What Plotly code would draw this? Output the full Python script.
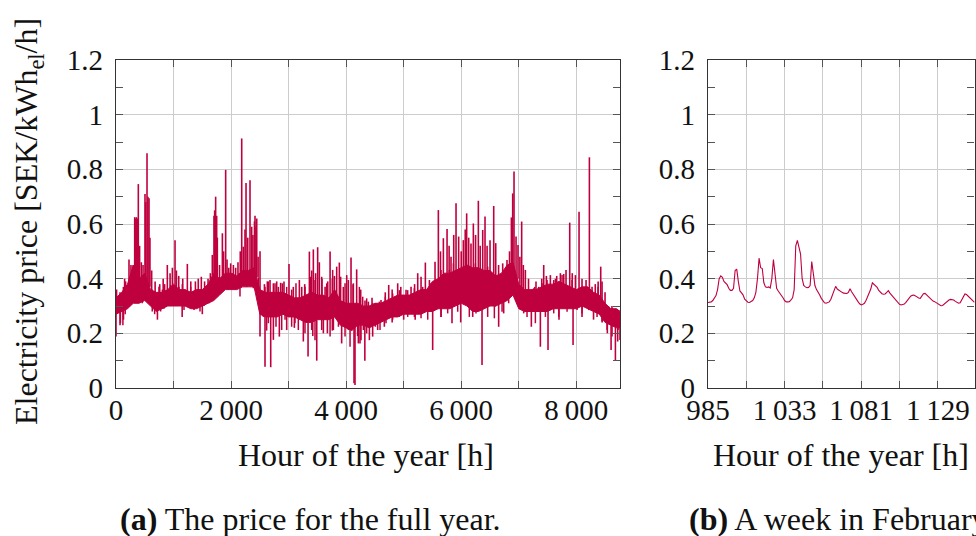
import plotly.graph_objects as go

# ---------------- data ----------------
# Full year: dense core band of the hourly price, sampled every 100 h
band_hours = list(range(0, 8800, 100)) + [8760]
band_lo = [0.27, 0.28, 0.29, 0.31, 0.31, 0.32, 0.30, 0.28, 0.29, 0.30,
           0.30, 0.30, 0.30, 0.29, 0.29, 0.30, 0.31, 0.32, 0.34, 0.36,
           0.36, 0.36, 0.37, 0.37, 0.37, 0.27, 0.26, 0.26, 0.26, 0.27,
           0.26, 0.26, 0.25, 0.24, 0.24, 0.25, 0.25, 0.25, 0.26, 0.23,
           0.22, 0.21, 0.23, 0.23, 0.22, 0.23, 0.24, 0.25, 0.26, 0.26,
           0.27, 0.27, 0.27, 0.27, 0.28, 0.28, 0.29, 0.29, 0.29, 0.30,
           0.31, 0.30, 0.28, 0.28, 0.29, 0.30, 0.30, 0.31, 0.32, 0.34,
           0.29, 0.28, 0.28, 0.28, 0.28, 0.28, 0.29, 0.29, 0.29, 0.29,
           0.29, 0.30, 0.29, 0.28, 0.27, 0.24, 0.23, 0.22,
           0.22]
band_hi = [0.33, 0.35, 0.38, 0.45, 0.40, 0.42, 0.36, 0.35, 0.35, 0.36,
           0.38, 0.36, 0.36, 0.35, 0.36, 0.36, 0.38, 0.42, 0.40, 0.42,
           0.42, 0.41, 0.43, 0.43, 0.44, 0.36, 0.35, 0.35, 0.35, 0.35,
           0.34, 0.33, 0.33, 0.34, 0.35, 0.34, 0.34, 0.33, 0.36, 0.32,
           0.31, 0.31, 0.31, 0.30, 0.30, 0.31, 0.31, 0.32, 0.33, 0.34,
           0.34, 0.34, 0.35, 0.36, 0.36, 0.39, 0.40, 0.42, 0.42, 0.43,
           0.44, 0.45, 0.44, 0.44, 0.43, 0.43, 0.41, 0.42, 0.45, 0.46,
           0.38, 0.36, 0.36, 0.36, 0.37, 0.38, 0.38, 0.39, 0.38, 0.37,
           0.36, 0.37, 0.37, 0.35, 0.34, 0.31, 0.29, 0.29,
           0.28]

# Individual price peaks (hour, price)
peak_hours = [10, 70, 150, 226, 260, 300, 325, 340, 355, 371, 388, 410, 440, 470, 504, 516, 539, 555, 574, 590,
              620, 680, 760, 820, 892, 940, 980, 1026, 1050, 1090, 1160, 1240, 1300, 1380, 1430, 1483, 1540, 1600,
              1640, 1674, 1703, 1715, 1732, 1750, 1761, 1800, 1849, 1870, 1906, 1930, 1960, 1993, 2040, 2080, 2120,
              2160, 2185, 2213, 2242, 2260, 2290, 2329, 2358, 2380, 2407, 2416, 2434, 2446, 2470, 2503,
              2580, 2630, 2677, 2735, 2793, 2862, 2920, 3007, 3082, 3187, 3228, 3280, 3361, 3401, 3430, 3470, 3505,
              3534, 3580, 3634, 3680, 3721, 3760, 3796, 3836, 3882, 3951, 4010, 4085, 4120, 4183, 4253, 4328, 4386,
              4450, 4519, 4606, 4680, 4740, 4800, 4896, 4950, 5041, 5128, 5190, 5244, 5302, 5377, 5447, 5545, 5603,
              5640, 5690, 5754, 5790, 5823, 5870, 5910, 5956, 6000, 6037, 6070, 6095, 6130, 6170, 6211, 6250, 6298,
              6330, 6374, 6414, 6450, 6501, 6565, 6600, 6650, 6721, 6760, 6796, 6840, 6872, 6895, 6918, 6953, 6987,
              7020, 7051, 7080, 7115, 7170, 7260, 7300, 7347, 7400, 7434, 7480, 7550, 7608, 7660, 7724, 7782, 7822,
              7886, 7930, 7985, 8048, 8100, 8170, 8228, 8274, 8330, 8380, 8425, 8448, 8500, 8564, 8620, 8680, 8738]
peak_price = [0.36, 0.35, 0.40, 0.47, 0.45, 0.45, 0.625, 0.62, 0.625, 0.62, 0.746, 0.52, 0.46, 0.45, 0.71, 0.68, 0.859, 0.70, 0.694, 0.55,
              0.43, 0.39, 0.38, 0.40, 0.45, 0.42, 0.44, 0.541, 0.43, 0.41, 0.40, 0.454, 0.39, 0.39, 0.40, 0.407, 0.39, 0.40,
              0.42, 0.487, 0.63, 0.65, 0.70, 0.63, 0.55, 0.45, 0.566, 0.50, 0.798, 0.47, 0.44, 0.456, 0.45, 0.44, 0.46,
              0.50, 0.913, 0.517, 0.58, 0.75, 0.55, 0.76, 0.59, 0.56, 0.61, 0.63, 0.59, 0.62, 0.48, 0.50,
              0.38, 0.39, 0.395, 0.383, 0.39, 0.385, 0.39, 0.454, 0.37, 0.395, 0.37, 0.38, 0.499, 0.43, 0.507, 0.42, 0.515,
              0.46, 0.40, 0.37, 0.39, 0.499, 0.40, 0.41, 0.444, 0.459, 0.37, 0.413, 0.477, 0.38, 0.434, 0.36, 0.32, 0.316,
              0.33, 0.31, 0.322, 0.35, 0.377, 0.36, 0.383, 0.37, 0.359, 0.37, 0.38, 0.42, 0.407, 0.459, 0.395, 0.462, 0.651,
              0.50, 0.548, 0.582, 0.52, 0.48, 0.56, 0.676, 0.554, 0.50, 0.541, 0.58, 0.639, 0.55, 0.529, 0.602, 0.56, 0.685,
              0.52, 0.578, 0.627, 0.52, 0.541, 0.666, 0.53, 0.45, 0.456, 0.43, 0.468, 0.50, 0.624, 0.712, 0.792, 0.554, 0.523,
              0.48, 0.609, 0.45, 0.432, 0.40, 0.365, 0.39, 0.37, 0.40, 0.45, 0.41, 0.413, 0.395, 0.41, 0.42, 0.417, 0.432,
              0.605, 0.42, 0.413, 0.645, 0.40, 0.395, 0.844, 0.37, 0.38, 0.39, 0.444, 0.39, 0.35, 0.298, 0.30, 0.29, 0.285]

# Smaller excursions at the top edge of the band (hour, price)
edge_top_hours = [81, 128, 168, 255, 458, 631, 689, 747, 805, 846, 950, 1095, 1153, 1298, 1385, 1558, 1617, 1790,
                  1964, 2022, 2080, 2138, 2590, 2648, 2764, 2822, 2891, 2967, 3053, 3128, 3285, 3384, 3459, 3575,
                  3662, 3766, 3905, 3981, 4039, 4126, 4230, 4288, 4357, 4461, 4577, 4681, 4809, 4925, 5070, 5186,
                  5331, 5476, 5649, 5794, 5864, 5997, 6141, 6246, 6333, 6460, 6536, 6651, 6767, 7173, 7277, 7405,
                  7492, 7637, 7753, 7927, 8101, 8274, 8379, 8506, 8593, 8691]
edge_top_price = [0.346, 0.37, 0.39, 0.41, 0.37, 0.36, 0.346, 0.37, 0.36, 0.38, 0.377, 0.37, 0.38, 0.37, 0.36, 0.37, 0.365, 0.395,
                  0.41, 0.42, 0.41, 0.42, 0.37, 0.39, 0.383, 0.37, 0.383, 0.37, 0.36, 0.383, 0.37, 0.407, 0.395, 0.407,
                  0.383, 0.432, 0.407, 0.383, 0.395, 0.383, 0.37, 0.334, 0.328, 0.31, 0.316, 0.334, 0.346, 0.358, 0.358, 0.365,
                  0.37, 0.383, 0.432, 0.432, 0.456, 0.432, 0.407, 0.456, 0.432, 0.444, 0.42, 0.407, 0.407, 0.358, 0.37, 0.383,
                  0.395, 0.40, 0.413, 0.395, 0.37, 0.358, 0.37, 0.298, 0.285, 0.279]

# Individual price dips (hour, price)
dip_hours = [0, 70, 130, 720, 1150, 1500, 2503, 2590, 2689, 2735, 2839, 2967, 3100, 3256, 3338, 3420, 3489, 3604,
             3674, 3760, 3922, 4039, 4137, 4154, 4200, 4241, 4258, 4325, 4404, 4461, 4548, 4664, 4800, 5000, 5200,
             5504, 5650, 5840, 5991, 6200, 6362, 6651, 6738, 7219, 7376, 7509, 7700, 7944, 8100, 8300, 8450, 8540,
             8605, 8680, 8720, 8760]
dip_price = [0.188, 0.23, 0.25, 0.25, 0.26, 0.27, 0.188, 0.078, 0.076, 0.176, 0.188, 0.212, 0.22, 0.17, 0.115, 0.19, 0.10, 0.20,
             0.20, 0.21, 0.163, 0.212, 0.017, 0.011, 0.19, 0.163, 0.175, 0.10, 0.175, 0.188, 0.212, 0.224, 0.24, 0.25, 0.25,
             0.139, 0.26, 0.237, 0.24, 0.26, 0.084, 0.224, 0.273, 0.224, 0.151, 0.139, 0.25, 0.157, 0.26, 0.25, 0.24, 0.20,
             0.139, 0.102, 0.17, 0.176]

# Smaller excursions at the bottom edge of the band (hour, price)
edge_bot_hours = [77, 120, 160, 197, 458, 630, 672, 776, 834, 921, 1066, 1124, 1182, 1269, 1356, 1460, 1530, 1617,
                  1820, 1935, 2138, 2155, 2271, 2387, 2474, 2561, 2619, 2648, 2706, 2781, 2880, 2938, 3053, 3111,
                  3169, 3285, 3401, 3459, 3575, 3721, 3779, 3866, 3981, 4068, 4212, 4299, 4357, 4508, 4589, 4693,
                  4809, 4925, 5070, 5186, 5302, 5418, 5649, 5765, 5939, 6141, 6257, 6460, 6576, 6594, 6710, 6825,
                  6970, 7086, 7144, 7289, 7463, 7608, 7695, 7840, 8014, 8101, 8216, 8361, 8448, 8535, 8622, 8726]
edge_bot_price = [0.237, 0.23, 0.27, 0.31, 0.31, 0.28, 0.27, 0.28, 0.29, 0.30, 0.31, 0.30, 0.285, 0.30, 0.285, 0.28, 0.30, 0.31,
                  0.35, 0.36, 0.37, 0.335, 0.37, 0.365, 0.37, 0.26, 0.21, 0.237, 0.26, 0.224, 0.212, 0.25, 0.224, 0.237,
                  0.212, 0.20, 0.212, 0.175, 0.212, 0.188, 0.212, 0.224, 0.188, 0.151, 0.163, 0.212, 0.20, 0.224, 0.212, 0.237,
                  0.25, 0.26, 0.26, 0.26, 0.255, 0.25, 0.26, 0.273, 0.279, 0.26, 0.273, 0.26, 0.255, 0.298, 0.279, 0.31,
                  0.334, 0.273, 0.26, 0.237, 0.26, 0.273, 0.26, 0.279, 0.285, 0.273, 0.285, 0.26, 0.243, 0.212, 0.188, 0.212]

# A week in February (hours 985 - 1152)
week_hours = list(range(985, 1153))
week_price = [0.313, 0.313, 0.315, 0.32, 0.327, 0.338, 0.36, 0.40, 0.41, 0.405,
              0.39, 0.383, 0.378, 0.365, 0.357, 0.357, 0.365, 0.43, 0.435, 0.39,
              0.355, 0.348, 0.34, 0.325, 0.318, 0.314, 0.313, 0.316, 0.32, 0.33,
              0.35, 0.40, 0.475, 0.44, 0.437, 0.385, 0.37, 0.368, 0.37, 0.366,
              0.40, 0.47, 0.415, 0.365, 0.355, 0.348, 0.337, 0.33, 0.32, 0.315,
              0.315, 0.316, 0.322, 0.33, 0.36, 0.52, 0.54, 0.515, 0.49, 0.40,
              0.375, 0.37, 0.367, 0.368, 0.375, 0.463, 0.42, 0.375, 0.36, 0.352,
              0.34, 0.328, 0.318, 0.312, 0.31, 0.312, 0.315, 0.325, 0.34, 0.36,
              0.372, 0.362,
              0.357, 0.353, 0.35, 0.347, 0.346, 0.346, 0.35, 0.363, 0.352, 0.342,
              0.333, 0.324, 0.316, 0.308, 0.304, 0.306, 0.31, 0.32, 0.333, 0.348,
              0.362, 0.385, 0.38, 0.375, 0.368, 0.357, 0.35, 0.345, 0.343, 0.344,
              0.35, 0.356, 0.347, 0.34, 0.333, 0.326, 0.318, 0.312, 0.306, 0.304,
              0.305, 0.307, 0.313, 0.322, 0.33, 0.336, 0.339, 0.34, 0.337, 0.332,
              0.329, 0.328, 0.335, 0.345, 0.346, 0.34, 0.333, 0.327, 0.322, 0.318,
              0.316, 0.313, 0.309, 0.304, 0.301, 0.302, 0.307, 0.313, 0.318, 0.322,
              0.324, 0.323, 0.322, 0.317, 0.312, 0.31, 0.312, 0.322, 0.336, 0.344,
              0.342, 0.336, 0.328, 0.322, 0.316, 0.313]

year_ticks = [0, 2000, 4000, 6000, 8000]
year_ticktext = ["0", "2\u2009000", "4\u2009000", "6\u2009000", "8\u2009000"]
week_ticks = [985, 1033, 1081, 1129]
week_ticktext = ["985", "1\u2009033", "1\u2009081", "1\u2009129"]
y_ticks = [0, 0.2, 0.4, 0.6, 0.8, 1.0, 1.2]
y_ticktext = ["0", "0.2", "0.4", "0.6", "0.8", "1", "1.2"]

# ---------------- figure ----------------
COL = "#bf003f"
FONT = "Liberation Serif"
FS = 29      # tick labels
FS_T = 32    # titles and captions
W, H = 976, 536

fig = go.Figure()

# dense band of the full-year series
fig.add_trace(go.Scatter(
    x=band_hours + band_hours[::-1],
    y=band_hi + band_lo[::-1],
    fill="toself", fillcolor=COL, mode="lines",
    line=dict(color=COL, width=1), hoverinfo="skip", showlegend=False,
    xaxis="x", yaxis="y"))


def base_of(h):
    i = min(int(h // 100), len(band_lo) - 1)
    return (band_lo[i] + band_hi[i]) / 2


def segments(hours, prices):
    xs, ys = [], []
    for h, v in zip(hours, prices):
        xs += [h, h, None]
        ys += [base_of(h), v, None]
    return xs, ys


ex, ey = segments(edge_top_hours + edge_bot_hours, edge_top_price + edge_bot_price)
fig.add_trace(go.Scatter(x=ex, y=ey, mode="lines", line=dict(color=COL, width=1.5),
                         hoverinfo="skip", showlegend=False, xaxis="x", yaxis="y"))
sx, sy = segments(peak_hours + dip_hours, peak_price + dip_price)
fig.add_trace(go.Scatter(x=sx, y=sy, mode="lines", line=dict(color=COL, width=1.6),
                         hoverinfo="skip", showlegend=False, xaxis="x", yaxis="y"))

fig.add_trace(go.Scatter(x=week_hours, y=week_price, mode="lines",
                         line=dict(color=COL, width=1.1), showlegend=False,
                         xaxis="x2", yaxis="y2"))

ydom = [(H - 388) / H, (H - 60) / H]
axis_common = dict(
    automargin=False,
    showline=True, linecolor="#333333", linewidth=1.2, mirror="ticks",
    ticks="inside", ticklen=7, tickcolor="#555555", tickwidth=1,
    showgrid=True, gridcolor="#cccccc", gridwidth=1, zeroline=False,
    tickfont=dict(family=FONT, size=FS, color="#111111"),
)
yminor = dict(tickmode="linear", tick0=0, dtick=0.1, ticks="inside", ticklen=7,
              tickcolor="#555555", showgrid=False)

fig.update_layout(
    width=W, height=H, margin=dict(l=0, r=0, t=0, b=0, autoexpand=False),
    paper_bgcolor="white", plot_bgcolor="white",
    font=dict(family=FONT, size=FS, color="#111111"),
    xaxis=dict(domain=[116 / W, 620 / W], range=[0, 8760], tickmode="array",
               tickvals=year_ticks, ticktext=year_ticktext, ticklabelstandoff=-4,
               minor=dict(tickmode="linear", tick0=0, dtick=1000, ticks="inside", ticklen=7,
                          tickcolor="#555555", showgrid=True, gridcolor="#cccccc", gridwidth=1),
               **axis_common),
    yaxis=dict(domain=ydom, range=[0, 1.2], tickmode="array", tickvals=y_ticks, ticktext=y_ticktext,
               ticklabelstandoff=6, minor=yminor, **axis_common),
    xaxis2=dict(domain=[708 / W, 974.5 / W], range=[985, 1152], tickmode="array",
                tickvals=week_ticks, ticktext=week_ticktext, anchor="y2", ticklabelstandoff=-4,
                minor=dict(tickmode="linear", tick0=985, dtick=24, ticks="inside", ticklen=7,
                           tickcolor="#555555", showgrid=True, gridcolor="#cccccc", gridwidth=1),
                **axis_common),
    yaxis2=dict(domain=ydom, range=[0, 1.2], tickmode="array", tickvals=y_ticks, ticktext=y_ticktext,
                anchor="x2", ticklabelstandoff=6, minor=yminor, **axis_common),
)

ann = dict(xref="paper", yref="paper", showarrow=False, font=dict(family=FONT, size=FS_T, color="#111111"))
fig.add_annotation(text="Electricity price [SEK/kWh<sub>el</sub>/h]", x=28 / W, y=1 - 222 / H,
                   textangle=-90, xanchor="center", yanchor="middle", **ann)
fig.add_annotation(text="Hour of the year [h]", x=366 / W, y=1 - 455 / H,
                   xanchor="center", yanchor="middle", **ann)
fig.add_annotation(text="Hour of the year [h]", x=841 / W, y=1 - 455 / H,
                   xanchor="center", yanchor="middle", **ann)
fig.add_annotation(text="<b>(a)</b> The price for the full year.", x=310 / W, y=1 - 519 / H,
                   xanchor="center", yanchor="middle", **ann)
fig.add_annotation(text="<b>(b)</b> A week in February.", x=841 / W, y=1 - 519 / H,
                   xanchor="center", yanchor="middle", **ann)

fig.write_html("out.html", post_script="document.body.style.margin='0';")
